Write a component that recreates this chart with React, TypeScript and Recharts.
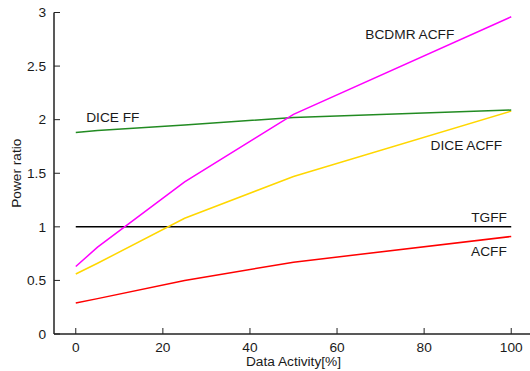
import React from 'react';
import { LineChart, Line, XAxis, YAxis, ReferenceDot, Label } from 'recharts';

const activity = [0, 5, 25, 50, 100];
const bcdmrAcff = [0.63, 0.81, 1.42, 2.05, 2.96];
const diceAcff = [0.56, 0.66, 1.08, 1.47, 2.08];
const diceFf = [1.88, 1.9, 1.95, 2.02, 2.09];
const acff = [0.29, 0.33, 0.5, 0.67, 0.91];
const tgff = [1, 1, 1, 1, 1];

const xTicks = [0, 20, 40, 60, 80, 100];
const yTicks = [0, 0.5, 1, 1.5, 2, 2.5, 3];

const seriesNames = ['TGFF', 'ACFF', 'DICE ACFF', 'DICE FF', 'BCDMR ACFF'];
const seriesValues = [tgff, acff, diceAcff, diceFf, bcdmrAcff];
const seriesColors = ['#000000', '#ff0000', '#ffd700', '#228b22', '#ff00ff'];

// label anchor positions in data coordinates
const labelNames = ['BCDMR ACFF', 'DICE FF', 'DICE ACFF', 'TGFF', 'ACFF'];
const labelX = [66.5, 2.4, 97.9, 99.0, 99.0];
const labelY = [2.8, 2.02, 1.76, 1.09, 0.777];
const labelAnchor = ['start', 'start', 'end', 'end', 'end'];

const FONT = '"Liberation Sans", Arial, Helvetica, sans-serif';
const TEXT = '#1a1a1a';
const FS = 13.7;

const toData = (vals: number[]) => activity.map((a, i) => ({ x: a, y: vals[i] }));

const XTickBottom = (props: any) => {
  const { x, y, payload } = props;
  return (
    <g>
      <line x1={x} y1={y} x2={x} y2={y - 6} stroke="#222" strokeWidth={1} />
      <text x={x} y={y + 17.5} textAnchor="middle" fontSize={FS} fontFamily={FONT} fill={TEXT}>
        {payload.value}
      </text>
    </g>
  );
};

const XTickTop = (props: any) => {
  const { x, y } = props;
  return <line x1={x} y1={y} x2={x} y2={y + 6} stroke="#222" strokeWidth={1} />;
};

const YTickLeft = (props: any) => {
  const { x, y, payload } = props;
  return (
    <g>
      <line x1={x} y1={y} x2={x + 6} y2={y} stroke="#222" strokeWidth={1} />
      <text x={x - 8} y={y + 4.8} textAnchor="end" fontSize={FS} fontFamily={FONT} fill={TEXT}>
        {payload.value}
      </text>
    </g>
  );
};

const YTickRight = (props: any) => {
  const { x, y } = props;
  return <line x1={x} y1={y} x2={x - 6} y2={y} stroke="#222" strokeWidth={1} />;
};

const XAxisLabel = (props: any) => {
  const vb = props.viewBox;
  return (
    <text x={vb.x + vb.width / 2} y={vb.y + 31.5} textAnchor="middle" fontSize={FS} fontFamily={FONT} fill={TEXT}>
      Data Activity[%]
    </text>
  );
};

const YAxisLabel = (props: any) => {
  const vb = props.viewBox;
  const cx = vb.x + 16;
  const cy = vb.y + vb.height / 2;
  return (
    <text
      x={cx}
      y={cy}
      transform={`rotate(-90 ${cx} ${cy})`}
      textAnchor="middle"
      dominantBaseline="central"
      fontSize={FS}
      fontFamily={FONT}
      fill={TEXT}
    >
      Power ratio
    </text>
  );
};

export default function App() {
  return (
    <div
      style={{
        position: 'fixed',
        left: 0,
        top: 0,
        width: 530,
        height: 371,
        overflow: 'hidden',
        background: '#fff',
      }}
    >
      <LineChart width={533} height={371} margin={{ top: 12.5, right: 0, bottom: 0, left: 0 }}>
        <XAxis
          xAxisId={0}
          type="number"
          dataKey="x"
          domain={[-5, 105]}
          ticks={xTicks}
          allowDataOverflow
          height={37}
          tickSize={0}
          tickMargin={0}
          tickLine={false}
          axisLine={{ stroke: '#222', strokeWidth: 1.5 }}
          tick={<XTickBottom />}
          label={<Label content={<XAxisLabel />} />}
        />
        <XAxis
          xAxisId="top"
          orientation="top"
          type="number"
          dataKey="x"
          domain={[-5, 105]}
          ticks={xTicks}
          allowDataOverflow
          height={0}
          tickSize={0}
          tickMargin={0}
          tickLine={false}
          axisLine={{ stroke: '#222', strokeWidth: 1.5 }}
          tick={<XTickTop />}
        />
        <YAxis
          yAxisId={0}
          type="number"
          domain={[0, 3]}
          ticks={yTicks}
          allowDataOverflow
          width={54}
          tickSize={0}
          tickMargin={0}
          tickLine={false}
          axisLine={{ stroke: '#222', strokeWidth: 1.5 }}
          tick={<YTickLeft />}
          label={<Label content={<YAxisLabel />} />}
        />
        <YAxis
          yAxisId="right"
          orientation="right"
          type="number"
          domain={[0, 3]}
          ticks={yTicks}
          allowDataOverflow
          width={0}
          tickSize={0}
          tickMargin={0}
          tickLine={false}
          axisLine={{ stroke: '#222', strokeWidth: 1.5 }}
          tick={<YTickRight />}
        />
        {seriesNames.map((name, i) => (
          <Line
            key={name}
            name={name}
            data={toData(seriesValues[i])}
            dataKey="y"
            xAxisId={0}
            yAxisId={0}
            stroke={seriesColors[i]}
            strokeWidth={1.5}
            dot={false}
            activeDot={false}
            isAnimationActive={false}
          />
        ))}
        {labelNames.map((name, i) => (
          <ReferenceDot
            key={name}
            x={labelX[i]}
            y={labelY[i]}
            xAxisId={0}
            yAxisId={0}
            r={0}
            ifOverflow="visible"
            shape={(p: any) => (
              <text
                x={p.cx}
                y={p.cy + 4.8}
                textAnchor={labelAnchor[i] as any}
                fontSize={FS}
                fontFamily={FONT}
                fill={TEXT}
              >
                {name}
              </text>
            )}
          />
        ))}
      </LineChart>
    </div>
  );
}
